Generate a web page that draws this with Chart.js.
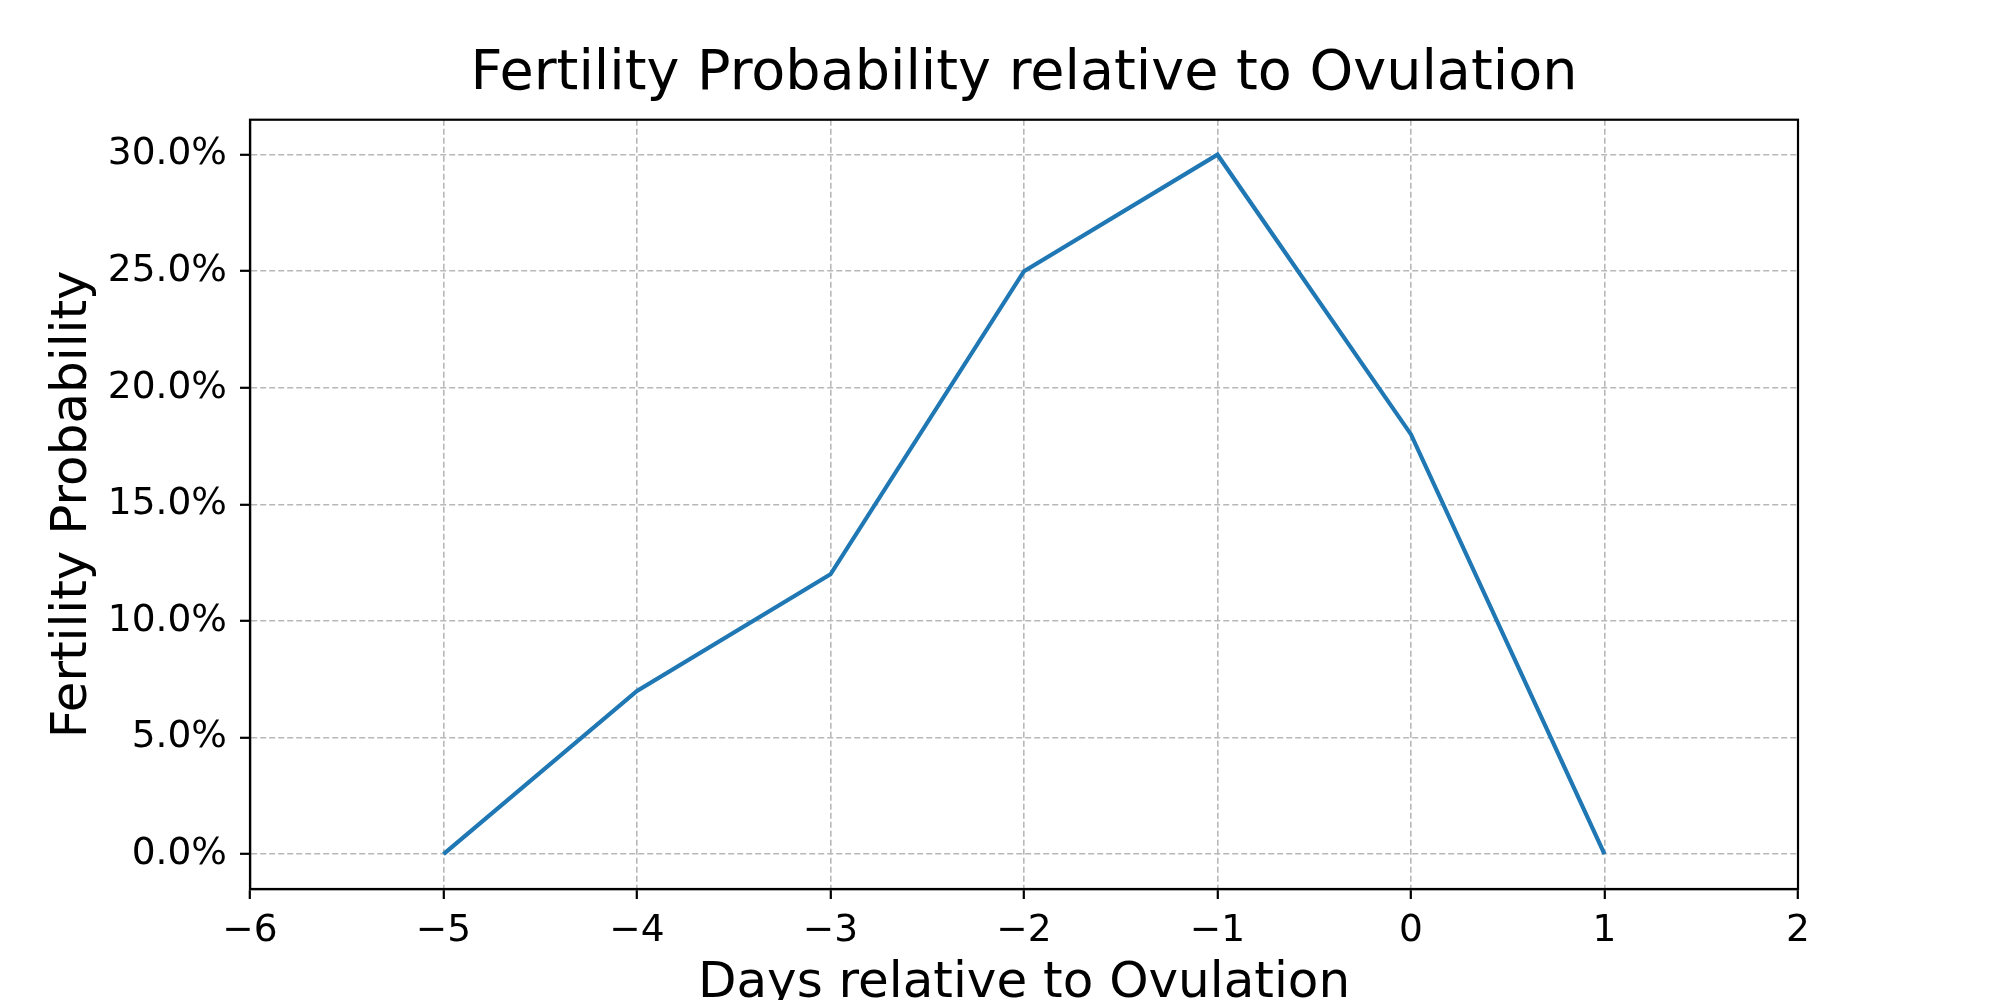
<!DOCTYPE html>
<html>
<head>
<meta charset="utf-8">
<script src="https://cdn.jsdelivr.net/npm/chart.js@4.4.1/dist/chart.umd.min.js"></script>
<style>
  html, body { margin: 0; padding: 0; background: #fff; }
  #wrap { width: 2000px; height: 1000px; }
</style>
</head>
<body>
<div id="wrap"><canvas id="fertChart" width="2000" height="1000"></canvas></div>
<script>
// data
const days = [-5, -4, -3, -2, -1, 0, 1];
const probability = [0, 7, 12, 25, 30, 18, 0]; // percent
const xTicks = [-6, -5, -4, -3, -2, -1, 0, 1, 2];
const yTicks = [0, 5, 10, 15, 20, 25, 30];

const FONT = "'DejaVu Sans', sans-serif";
const minus = v => (v < 0 ? '\u2212' + Math.abs(v) : String(v));

// matplotlib style box around the plot
const frame = {
    id: 'frame',
    afterDraw(chart) {
        const a = chart.chartArea;
        const ctx = chart.ctx;
        ctx.save();
        ctx.strokeStyle = '#000';
        ctx.lineWidth = 2.2;
        ctx.strokeRect(a.left, a.top, a.right - a.left, a.bottom - a.top);
        ctx.restore();
    }
};

const gridOpts = {
    color: '#b8b8b8',
    lineWidth: 1.6,
    drawTicks: true,
    tickLength: 10,
    tickColor: '#000',
    tickWidth: 2.2,
    tickBorderDash: []
};

const points = days.map((d, i) => ({ x: d, y: probability[i] }));

new Chart(document.getElementById('fertChart').getContext('2d'), {
    type: 'line',
    data: {
        datasets: [{
            label: 'Fertility Probability',
            data: points,
            borderColor: '#1f77b4',
            borderWidth: 4.2,
            pointRadius: 0,
            tension: 0,
            fill: false
        }]
    },
    options: {
        responsive: false,
        animation: false,
        devicePixelRatio: 1,
        layout: { padding: { left: 0, right: 202, top: 0, bottom: 0 } },
        plugins: {
            legend: { display: false },
            tooltip: { enabled: false },
            title: {
                display: true,
                fullSize: false,
                text: 'Fertility Probability relative to Ovulation',
                color: '#000',
                font: { family: FONT, size: 55.6, weight: 'normal', lineHeight: 1.2 },
                padding: { top: 41, bottom: 12 }
            }
        },
        scales: {
            x: {
                type: 'linear',
                min: -6,
                max: 2,
                afterBuildTicks: s => { s.ticks = xTicks.map(v => ({ value: v })); },
                afterFit: s => { s.height = 111; },
                ticks: {
                    color: '#000',
                    font: { family: FONT, size: 37.5 },
                    padding: 10,
                    maxRotation: 0,
                    autoSkip: false,
                    callback: v => minus(v)
                },
                grid: gridOpts,
                border: { display: true, color: '#000', width: 2.2, dash: [6, 3] },
                title: {
                    display: true,
                    text: 'Days relative to Ovulation',
                    color: '#000',
                    font: { family: FONT, size: 50, lineHeight: 0.64 },
                    padding: 0
                }
            },
            y: {
                type: 'linear',
                min: -1.5,
                max: 31.5,
                afterBuildTicks: s => { s.ticks = yTicks.map(v => ({ value: v })); },
                afterFit: s => { s.width = 250; },
                ticks: {
                    color: '#000',
                    font: { family: FONT, size: 37.5 },
                    padding: 13,
                    autoSkip: false,
                    callback: v => v.toFixed(1) + '%'
                },
                grid: gridOpts,
                border: { display: true, color: '#000', width: 2.2, dash: [6, 3] },
                title: {
                    display: true,
                    text: 'Fertility Probability',
                    color: '#000',
                    font: { family: FONT, size: 50, lineHeight: 1.2 },
                    padding: { top: 43, bottom: 0 }
                }
            }
        }
    },
    plugins: [frame]
});
</script>
</body>
</html>
